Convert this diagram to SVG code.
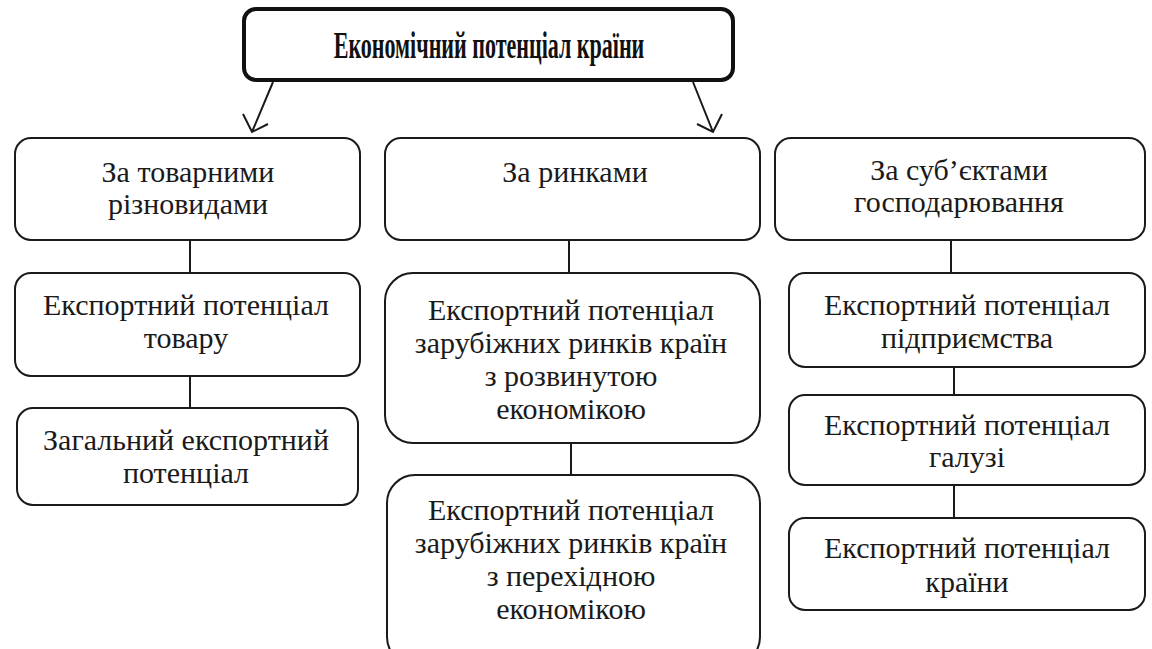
<svg xmlns="http://www.w3.org/2000/svg" width="1152" height="649" viewBox="0 0 1152 649">
<style>
text{font-family:'Liberation Serif','Times New Roman',serif !important}
.t{font-size:30px;fill:#1a1a1a;text-anchor:middle}
.b{fill:#fff;stroke:#1a1a1a;stroke-width:2}
</style>
<rect width="1152" height="649" fill="#fff"/>
<g id="connectors" stroke="#1a1a1a" stroke-width="2" fill="none">
<path d="M273,82 L252,132 M243,114 L252,132 L268,124"/>
<path d="M693,82 L713,132 M722,114 L713,132 L697,124"/>
<line x1="190" y1="240" x2="190" y2="273"/>
<line x1="190" y1="376" x2="190" y2="408"/>
<line x1="569" y1="240" x2="569" y2="273"/>
<line x1="571" y1="443" x2="571" y2="475"/>
<line x1="951" y1="240" x2="951" y2="273"/>
<line x1="954" y1="367" x2="954" y2="395"/>
<line x1="954" y1="485" x2="954" y2="518"/>
</g>
<g id="root">
<rect x="244" y="9" width="489" height="71" rx="12" fill="#fff" stroke="#111" stroke-width="4"/>
<text transform="translate(489,58) scale(0.58,1)" x="0" y="0" style="font-family:'Liberation Serif',serif" font-size="38" font-weight="bold" fill="#111" text-anchor="middle">Економічний потенціал країни</text>
</g>
<g id="n-goods">
<rect class="b" x="15" y="138" width="345" height="102" rx="16"/>
<text class="t" style="font-family:'Liberation Serif',serif" x="188" y="182">За товарними</text>
<text class="t" style="font-family:'Liberation Serif',serif" x="188" y="214">різновидами</text>
</g>
<g id="n-goods-export">
<rect class="b" x="15" y="273" width="345" height="103" rx="16"/>
<text class="t" style="font-family:'Liberation Serif',serif" x="186" y="315">Експортний потенціал</text>
<text class="t" style="font-family:'Liberation Serif',serif" x="186" y="348">товару</text>
</g>
<g id="n-general">
<rect class="b" x="17" y="408" width="341" height="97" rx="16"/>
<text class="t" style="font-family:'Liberation Serif',serif" x="186" y="450">Загальний експортний</text>
<text class="t" style="font-family:'Liberation Serif',serif" x="186" y="483">потенціал</text>
</g>
<g id="n-markets">
<rect class="b" x="385" y="138" width="375" height="102" rx="16"/>
<text class="t" style="font-family:'Liberation Serif',serif" x="575" y="182">За ринками</text>
</g>
<g id="n-developed">
<rect class="b" x="385" y="273" width="375" height="170" rx="28"/>
<text class="t" style="font-family:'Liberation Serif',serif" x="571" y="320">Експортний потенціал</text>
<text class="t" style="font-family:'Liberation Serif',serif" x="571" y="353">зарубіжних ринків країн</text>
<text class="t" style="font-family:'Liberation Serif',serif" x="571" y="386">з розвинутою</text>
<text class="t" style="font-family:'Liberation Serif',serif" x="571" y="419">економікою</text>
</g>
<g id="n-transition">
<rect class="b" x="387" y="475" width="373" height="190" rx="28"/>
<text class="t" style="font-family:'Liberation Serif',serif" x="571" y="520">Експортний потенціал</text>
<text class="t" style="font-family:'Liberation Serif',serif" x="571" y="553">зарубіжних ринків країн</text>
<text class="t" style="font-family:'Liberation Serif',serif" x="571" y="586">з перехідною</text>
<text class="t" style="font-family:'Liberation Serif',serif" x="571" y="619">економікою</text>
</g>
<g id="n-subjects">
<rect class="b" x="775" y="138" width="370" height="102" rx="16"/>
<text class="t" style="font-family:'Liberation Serif',serif" x="959" y="180">За суб’єктами</text>
<text class="t" style="font-family:'Liberation Serif',serif" x="959" y="212">господарювання</text>
</g>
<g id="n-enterprise">
<rect class="b" x="789" y="273" width="356" height="94" rx="16"/>
<text class="t" style="font-family:'Liberation Serif',serif" x="967" y="315">Експортний потенціал</text>
<text class="t" style="font-family:'Liberation Serif',serif" x="967" y="348">підприємства</text>
</g>
<g id="n-industry">
<rect class="b" x="789" y="395" width="356" height="90" rx="16"/>
<text class="t" style="font-family:'Liberation Serif',serif" x="967" y="435">Експортний потенціал</text>
<text class="t" style="font-family:'Liberation Serif',serif" x="967" y="467">галузі</text>
</g>
<g id="n-country">
<rect class="b" x="789" y="518" width="356" height="92" rx="16"/>
<text class="t" style="font-family:'Liberation Serif',serif" x="967" y="558">Експортний потенціал</text>
<text class="t" style="font-family:'Liberation Serif',serif" x="967" y="592">країни</text>
</g>
</svg>
